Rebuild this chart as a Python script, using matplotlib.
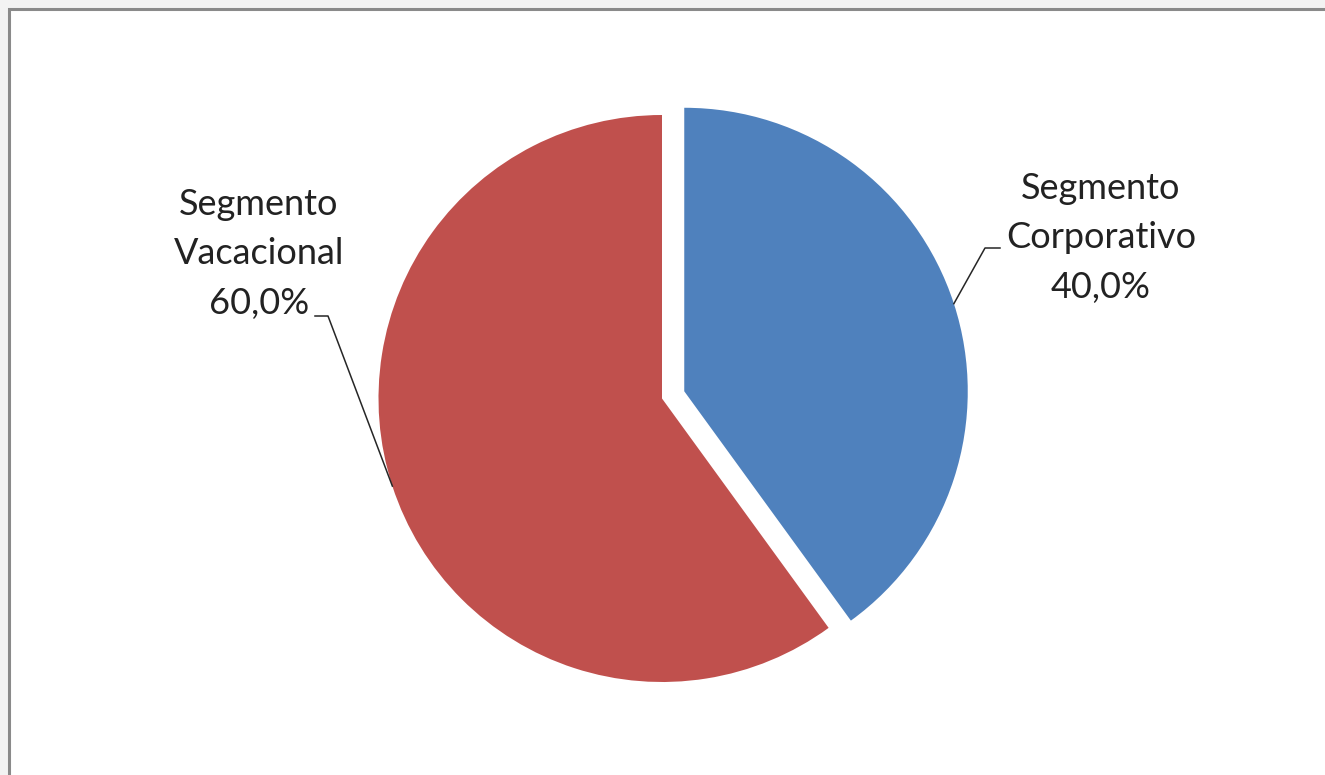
import numpy as np
import matplotlib
matplotlib.use("Agg")
import matplotlib.pyplot as plt
from matplotlib.patches import Rectangle

labels = ["Segmento\nCorporativo", "Segmento\nVacacional"]
values = [40.0, 60.0]
colors = ["#4F81BD", "#C0504D"]

W, H = 1325, 775
fig = plt.figure(figsize=(W / 100, H / 100), dpi=100)
fig.patch.set_facecolor("#f3f3f3")
ax = fig.add_axes([0, 0, 1, 1])
ax.set_xlim(0, W)
ax.set_ylim(0, H)
ax.axis("off")

def Y(y):
    return H - y

# chart frame
ax.add_patch(Rectangle((9, Y(780)), 1400, 780 - 9, facecolor="white",
                       edgecolor="#8a8a8a", linewidth=2.2, zorder=0))

R = 283.5
center = (662, Y(398.5))
explode = [23.4, 0.0]  # pie explode is in data units when radius is given
wedges, _ = ax.pie(values, colors=colors, startangle=90, counterclock=False,
                   radius=R, center=center, explode=explode,
                   wedgeprops=dict(linewidth=0), frame=False)
ax.set_xlim(0, W)
ax.set_ylim(0, H)
ax.set_aspect("equal")

label_pos = [(1101, Y(238)), (259, Y(254))]
elbows = [((985, Y(248)), (1000, Y(248))), ((328, Y(316)), (315, Y(316)))]

font = "Lato"
for w, lab, v, (tx, ty), (e1, e2) in zip(wedges, labels, values, label_pos, elbows):
    ang = np.deg2rad((w.theta1 + w.theta2) / 2)
    cx, cy = w.center
    px = cx + w.r * np.cos(ang)
    py = cy + w.r * np.sin(ang)
    ax.plot([px, e1[0], e2[0]], [py, e1[1], e2[1]], color="#262626", lw=1.1, zorder=3)
    txt = f"{lab}\n{v:.1f}%".replace(".", ",")
    ax.text(tx, ty, txt, ha="center", va="center", fontsize=26,
            family=font, color="#222222", linespacing=1.62, zorder=4)

fig.savefig("out.png", dpi=100, facecolor=fig.get_facecolor())
